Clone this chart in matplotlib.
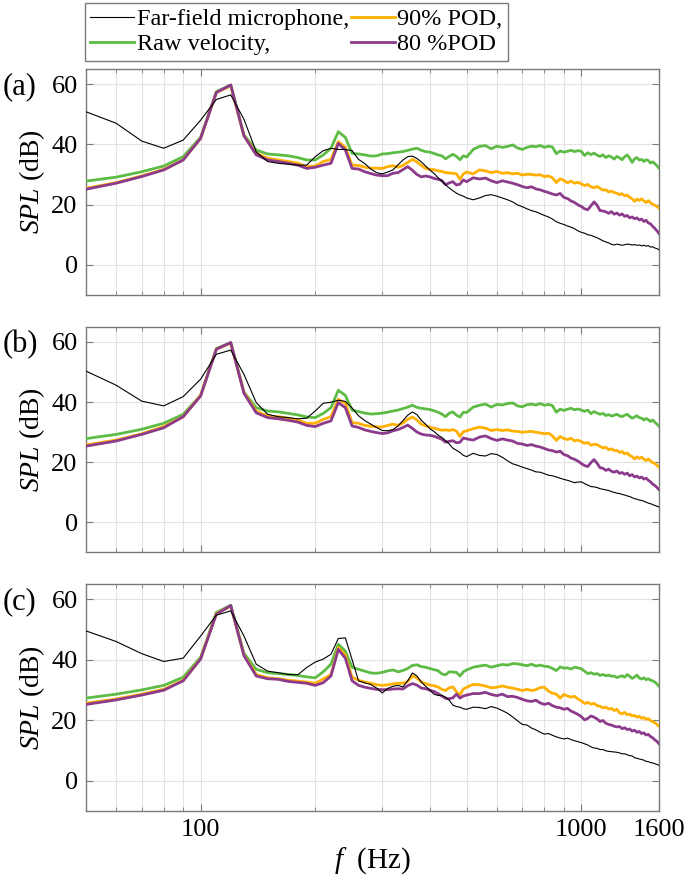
import numpy as np
import matplotlib
matplotlib.use("Agg")
import matplotlib.pyplot as plt
from matplotlib.ticker import FixedLocator, NullFormatter, FixedFormatter

plt.rcParams['font.family'] = ['Liberation Serif', 'DejaVu Serif']
plt.rcParams['mathtext.fontset'] = 'custom'
plt.rcParams['mathtext.rm'] = 'Liberation Serif'
plt.rcParams['mathtext.it'] = 'Liberation Serif:italic'

# frequency grid (Hz): 10 Hz steps to 500 Hz, 20 Hz steps above
freq = np.concatenate([np.arange(50, 510, 10), np.arange(520, 1620, 20)])

series_names = ["Far-field microphone,", "Raw velocity,", "90% POD,", "80 %POD"]
panel_labels = ["(a)", "(b)", "(c)"]

# ---------------- panel (a) ----------------
far_a = [50.8, 47.0, 41.1, 38.7, 41.4, 48.0, 54.9, 56.4, 48.3, 37.5, 34.3, 33.7, 33.4, 33.1, 33.1, 35.9, 37.9, 38.7, 38.3, 38.3, 37.9,
         35.0, 33.6, 31.8, 30.6, 30.2, 30.8, 31.5, 33.2, 34.8, 35.9, 36.1, 35.3, 34.2, 32.8, 31.5, 30.4, 29.0, 27.8, 26.6, 25.5, 24.6, 23.8, 23.2, 22.8, 22.2,
         21.6, 22.2, 23.0, 23.3, 22.8, 22.2, 21.6, 20.9, 19.9, 19.3, 18.6, 18.0, 17.6, 17.0, 16.4, 15.9, 15.2, 14.3, 13.8, 13.4,
         12.9, 12.5, 12.0, 11.3, 10.8, 10.5, 10.0, 9.8, 9.4, 9.0, 8.5, 8.0, 7.6, 7.3, 6.8, 6.6, 6.9, 6.7, 6.5, 6.7,
         6.9, 6.8, 6.6, 6.7, 6.5, 6.6, 6.3, 6.5, 6.2, 6.4, 5.9, 6.0, 5.6, 5.4, 5.0]
raw_a = [27.8, 29.1, 30.9, 32.8, 35.9, 42.3, 57.5, 59.7, 43.1, 38.1, 36.8, 36.5, 36.2, 35.6, 34.8, 34.8, 36.5, 38.7, 44.2, 42.3, 37.0,
         36.8, 36.5, 36.1, 36.2, 36.8, 36.9, 37.2, 37.4, 37.6, 38.0, 38.4, 38.7, 38.0, 37.6, 37.4, 37.0, 36.5, 36.2, 35.2, 36.0, 36.7, 36.0, 34.9, 36.2, 35.8,
         38.3, 39.3, 39.6, 38.5, 39.4, 39.0, 39.3, 39.8, 38.8, 38.3, 39.0, 39.4, 39.2, 39.6, 39.0, 39.4, 39.1, 36.9, 37.8, 37.4,
         37.7, 38.0, 37.6, 37.9, 37.7, 36.3, 37.2, 36.6, 37.1, 36.4, 36.0, 36.5, 35.6, 36.2, 35.8, 35.1, 36.0, 35.5, 34.9, 35.9,
         36.5, 35.4, 34.0, 35.2, 35.6, 34.8, 35.0, 34.3, 34.9, 34.6, 33.8, 34.2, 33.6, 32.9, 32.1]
pod90_a = [25.4, 27.3, 29.5, 31.7, 34.8, 42.0, 57.2, 59.4, 42.8, 37.0, 35.4, 34.8, 34.3, 33.7, 32.6, 32.8, 34.3, 35.0, 40.9, 39.0, 33.1,
           33.0, 32.4, 32.1, 32.1, 32.0, 32.6, 32.9, 32.4, 33.0, 34.0, 35.0, 34.2, 33.0, 32.0, 31.7, 31.6, 31.2, 31.0, 30.6, 30.5, 30.4, 30.2, 28.4, 30.2, 30.8,
           30.2, 31.5, 31.2, 30.6, 31.0, 30.4, 30.6, 30.2, 30.4, 29.8, 30.1, 30.0, 29.8, 29.9, 29.3, 29.5, 28.9, 27.3, 28.6, 28.0,
           27.2, 27.8, 27.1, 27.4, 26.9, 26.3, 26.7, 25.9, 25.6, 26.0, 25.4, 24.8, 24.9, 24.2, 24.5, 24.0, 23.8, 23.3, 23.6, 22.9,
           23.2, 22.4, 21.9, 21.1, 21.8, 21.4, 21.9, 21.2, 20.7, 21.3, 20.6, 20.1, 19.8, 19.4, 18.8]
pod80_a = [25.1, 27.1, 29.3, 31.5, 34.8, 42.0, 57.2, 59.7, 42.8, 36.5, 34.8, 34.3, 33.7, 33.1, 32.0, 32.4, 33.1, 33.7, 40.3, 38.1, 32.0,
           31.8, 30.9, 30.3, 29.8, 29.6, 29.6, 30.4, 30.6, 31.6, 32.6, 31.4, 30.0, 29.2, 29.5, 29.2, 28.7, 28.4, 28.0, 26.6, 27.2, 27.6, 26.5, 26.8, 28.2, 27.6,
           28.9, 28.5, 28.8, 27.9, 27.3, 27.9, 27.5, 27.1, 26.6, 26.0, 25.6, 25.9, 25.2, 24.9, 24.4, 24.0, 23.5, 23.2, 23.7, 22.4,
           22.0, 21.2, 20.7, 19.9, 19.4, 18.6, 18.3, 19.6, 20.9, 19.8, 18.0, 17.9, 17.6, 17.1, 17.7, 16.8, 17.2, 16.5, 16.9, 16.1,
           16.4, 15.6, 15.9, 15.3, 15.6, 14.9, 15.2, 14.4, 14.8, 13.9, 13.6, 12.8, 12.1, 11.3, 10.4]

# ---------------- panel (b) ----------------
far_b = [50.3, 45.6, 40.3, 38.7, 41.8, 47.6, 55.9, 57.3, 49.2, 39.8, 35.9, 35.1, 34.8, 34.4, 34.6, 37.0, 39.6, 39.9, 40.6, 40.2, 38.0,
         35.4, 33.8, 32.6, 31.5, 30.5, 30.4, 30.8, 32.0, 33.8, 35.6, 36.7, 35.8, 33.9, 32.6, 31.1, 30.2, 29.0, 28.2, 27.1, 26.0, 24.6, 23.9, 23.2, 22.2, 21.8,
         22.9, 22.2, 22.0, 22.8, 22.5, 21.6, 20.4, 19.4, 18.9, 18.3, 17.8, 17.3, 16.7, 16.6, 16.1, 15.6, 15.4, 15.0, 14.6, 14.2,
         13.9, 13.5, 13.1, 13.3, 13.4, 12.8, 12.3, 11.8, 11.7, 11.5, 11.1, 10.9, 10.7, 10.5, 10.1, 9.9, 9.6, 9.5, 9.2, 9.0,
         8.7, 8.5, 8.1, 7.8, 7.6, 7.3, 7.2, 6.9, 6.6, 6.3, 6.1, 5.8, 5.5, 5.3, 5.0]
raw_b = [27.8, 29.2, 30.9, 32.9, 35.9, 42.2, 57.8, 59.8, 43.3, 38.1, 37.0, 36.7, 36.2, 35.7, 35.0, 34.8, 36.2, 38.1, 43.9, 42.2, 37.3,
         36.8, 36.3, 36.0, 36.1, 36.3, 36.6, 37.0, 37.3, 37.8, 38.3, 38.9, 38.2, 37.9, 37.7, 37.5, 37.1, 36.6, 36.0, 35.1, 36.3, 36.7, 35.6, 35.0, 36.6, 36.5,
         38.3, 38.9, 39.3, 38.3, 39.2, 39.0, 39.5, 39.7, 38.7, 38.4, 39.1, 39.3, 39.0, 39.5, 38.9, 39.2, 38.8, 36.6, 37.6, 37.2,
         37.6, 37.9, 37.4, 37.7, 37.3, 36.9, 37.3, 36.1, 36.8, 36.3, 35.9, 36.2, 35.5, 35.8, 35.3, 35.6, 35.9, 35.4, 35.1, 35.6,
         35.9, 35.2, 34.6, 35.0, 35.4, 34.8, 34.6, 34.0, 34.5, 34.1, 33.5, 34.0, 33.3, 32.6, 31.9]
pod90_b = [25.7, 27.3, 29.4, 31.8, 35.1, 42.2, 57.6, 59.6, 43.1, 37.0, 35.3, 35.1, 34.6, 34.0, 32.9, 32.9, 34.2, 35.1, 40.9, 39.6, 33.1,
           32.9, 32.2, 31.9, 31.7, 31.7, 32.2, 32.6, 32.2, 33.0, 34.2, 35.0, 34.0, 32.6, 32.1, 31.6, 31.3, 30.9, 30.6, 30.7, 30.5, 30.8, 30.3, 28.5, 30.1, 30.4,
           31.1, 31.6, 31.3, 30.5, 30.8, 30.5, 30.7, 30.3, 30.2, 29.9, 30.1, 30.2, 29.9, 29.7, 29.4, 29.6, 28.7, 27.2, 28.5, 27.8,
           27.5, 27.9, 27.0, 27.3, 26.8, 26.2, 26.5, 25.6, 25.9, 25.8, 25.2, 24.7, 24.9, 24.1, 24.4, 23.8, 23.9, 23.2, 23.5, 22.7,
           23.0, 22.2, 21.8, 21.0, 21.7, 21.2, 21.6, 20.9, 20.5, 21.0, 20.3, 19.8, 19.5, 18.9, 18.3]
pod80_b = [25.3, 27.0, 29.2, 31.4, 35.1, 42.0, 57.6, 59.8, 42.9, 36.4, 34.8, 34.4, 33.9, 33.3, 32.2, 31.8, 32.9, 33.7, 39.8, 38.1, 32.0,
           31.5, 30.7, 30.2, 29.8, 29.5, 29.7, 30.4, 30.8, 31.5, 32.3, 31.2, 30.0, 29.3, 29.0, 28.9, 28.6, 28.1, 27.6, 26.6, 26.9, 27.1, 26.4, 26.6, 28.0, 27.7,
           27.3, 28.3, 28.7, 27.8, 27.2, 27.7, 27.3, 27.0, 26.2, 26.0, 25.5, 25.8, 25.3, 25.0, 24.5, 24.0, 23.8, 23.3, 23.6, 22.5,
           22.1, 21.3, 20.9, 20.3, 19.5, 18.8, 18.5, 19.8, 20.8, 19.6, 18.1, 17.9, 17.2, 17.6, 16.9, 16.6, 17.0, 16.2, 16.5, 15.9,
           16.3, 15.4, 15.8, 15.0, 15.3, 14.7, 15.0, 14.3, 14.6, 13.9, 13.4, 12.6, 12.2, 11.5, 10.8]

# ---------------- panel (c) ----------------
far_c = [49.5, 46.0, 42.0, 39.4, 40.5, 47.8, 54.7, 56.1, 47.8, 38.5, 36.2, 35.7, 35.1, 35.0, 37.4, 39.2, 40.2, 41.8, 47.0, 47.2, 40.0,
         33.0, 32.3, 31.8, 30.6, 29.0, 30.5, 31.2, 31.5, 31.0, 33.0, 35.6, 34.6, 32.6, 31.2, 30.0, 28.6, 28.2, 28.2, 27.6, 26.6, 25.0, 24.5, 24.3, 23.8, 23.6,
         24.3, 24.2, 23.8, 24.5, 24.0, 23.2, 22.3, 21.1, 19.8, 18.6, 18.4, 17.4, 16.8, 16.0, 15.4, 15.6, 15.0, 14.5, 14.1, 13.8,
         14.1, 13.6, 13.2, 12.9, 12.6, 12.2, 11.8, 11.2, 10.8, 10.7, 10.3, 10.3, 9.9, 9.7, 9.6, 9.5, 9.4, 9.2, 8.9, 8.9,
         8.6, 8.3, 8.2, 7.6, 7.4, 7.2, 7.0, 6.8, 6.4, 6.3, 6.0, 5.9, 5.6, 5.4, 5.1]
raw_c = [27.3, 28.6, 30.0, 31.5, 34.2, 40.8, 55.6, 58.0, 42.1, 36.8, 35.7, 35.4, 35.1, 34.8, 34.3, 34.0, 36.0, 38.5, 45.1, 42.8, 37.5,
         36.8, 36.2, 35.6, 35.5, 35.8, 36.3, 36.6, 36.0, 36.4, 37.1, 38.1, 38.3, 37.7, 37.5, 37.1, 36.7, 36.4, 35.3, 35.0, 36.0, 35.9, 35.8, 34.6, 36.0, 36.6,
         37.5, 37.9, 38.2, 37.5, 38.0, 38.4, 38.2, 38.7, 38.6, 38.3, 38.0, 38.5, 37.9, 38.2, 37.8, 37.7, 37.1, 36.4, 37.6, 37.2,
         37.3, 36.9, 37.5, 37.3, 37.0, 36.2, 35.4, 35.7, 35.2, 35.4, 34.8, 35.1, 34.7, 34.9, 34.5, 34.6, 34.1, 34.4, 34.7, 34.2,
         35.1, 34.5, 33.8, 34.3, 34.9, 33.9, 33.6, 34.0, 33.4, 33.7, 33.2, 33.0, 32.6, 32.0, 31.2]
pod90_c = [25.6, 27.0, 28.6, 30.2, 33.2, 40.3, 55.2, 57.7, 41.5, 35.1, 34.0, 33.7, 33.2, 32.9, 32.6, 32.2, 33.6, 35.1, 44.0, 41.5, 34.2,
           33.2, 32.6, 32.2, 31.7, 31.5, 31.7, 32.0, 32.2, 32.2, 32.8, 34.6, 34.0, 32.6, 32.1, 31.6, 31.4, 31.0, 30.2, 29.8, 30.7, 31.0, 29.4, 28.4, 30.3, 30.9,
           31.8, 31.7, 31.3, 30.7, 30.9, 31.3, 30.9, 30.6, 30.2, 29.8, 30.2, 29.8, 30.1, 30.8, 30.9, 29.6, 28.9, 28.6, 27.3, 28.5,
           28.0, 27.6, 27.9, 27.0, 26.4, 25.5, 25.9, 25.3, 25.6, 24.8, 24.6, 24.1, 24.3, 23.7, 23.9, 23.2, 23.6, 22.4, 22.1, 22.6,
           21.8, 22.0, 21.4, 21.6, 21.0, 21.3, 20.6, 20.9, 20.3, 20.5, 19.9, 19.5, 19.2, 18.6, 18.0]
pod80_c = [25.2, 26.7, 28.3, 29.9, 33.0, 40.2, 55.0, 57.9, 41.3, 34.6, 33.7, 33.5, 32.8, 32.5, 32.2, 31.5, 32.4, 34.6, 43.4, 40.5, 33.0,
           31.5, 30.9, 30.5, 30.2, 30.1, 30.1, 30.3, 30.4, 30.3, 31.4, 32.1, 31.6, 30.6, 30.4, 29.9, 29.5, 28.8, 28.0, 27.2, 27.1, 27.4, 28.6, 27.3, 28.0, 28.3,
           28.8, 28.8, 29.2, 28.5, 28.1, 28.6, 27.8, 27.9, 27.5, 26.9, 26.4, 26.2, 26.6, 25.7, 25.2, 25.6, 24.8, 24.3, 24.1, 23.6,
           23.9, 23.0, 22.5, 21.9, 21.2, 20.1, 20.6, 21.4, 21.0, 20.4, 19.6, 19.9, 19.0, 18.6, 18.4, 18.0, 17.8, 17.9, 17.2, 17.5,
           16.9, 17.1, 16.4, 16.7, 16.0, 16.3, 15.6, 15.8, 15.1, 15.3, 14.6, 14.2, 13.5, 13.0, 12.2]

panels = [(far_a, raw_a, pod90_a, pod80_a),
          (far_b, raw_b, pod90_b, pod80_b),
          (far_c, raw_c, pod90_c, pod80_c)]

x_ticks = [100, 1000, 1600]
x_ticklabels = ["100", "1000", "1600"]
x_minor = [60, 70, 80, 90, 200, 300, 400, 500, 600, 700, 800, 900]
y_ticks = [0, 20, 40, 60]

c_far = "black"
c_raw = "#5dbb46"
c_90 = "#ffb000"
c_80 = "#8c3b8c"

fig = plt.figure(figsize=(6.85, 8.8), dpi=100)
boxes = [(86, 69, 659, 295), (86, 327, 659, 552), (86, 584, 659, 811)]
W, H = 685.0, 880.0
frame_col = "#7a7a7a"
handles = None
for i, (box, data) in enumerate(zip(boxes, panels)):
    l, t, r, b = box
    ax = fig.add_axes([l / W, 1 - b / H, (r - l) / W, (b - t) / H])
    far, raw, p90, p80 = [np.asarray(d) for d in data]
    h_raw, = ax.plot(freq, raw, color=c_raw, lw=2.0, zorder=3)
    h_90, = ax.plot(freq, p90, color=c_90, lw=2.0, zorder=4)
    h_80, = ax.plot(freq, p80, color=c_80, lw=2.0, zorder=5)
    h_far, = ax.plot(freq, far, color=c_far, lw=0.8, zorder=6)
    if handles is None:
        handles = [h_far, h_raw, h_90, h_80]
    ax.set_xscale('log')
    ax.set_xlim(50, 1600)
    ax.set_ylim(-10, 65)
    ax.xaxis.set_major_locator(FixedLocator(x_ticks))
    ax.xaxis.set_minor_locator(FixedLocator(x_minor))
    ax.xaxis.set_minor_formatter(NullFormatter())
    if i == 2:
        ax.xaxis.set_major_formatter(FixedFormatter(x_ticklabels))
        ax.set_xlabel(r"$\mathit{f}$  (Hz)", fontsize=21, labelpad=3)
    else:
        ax.xaxis.set_major_formatter(NullFormatter())
    ax.set_yticks(y_ticks)
    ax.grid(True, which='major', color='#e3e3e3', lw=0.8, zorder=0)
    ax.grid(True, which='minor', axis='x', color='#e3e3e3', lw=0.8, zorder=0)
    ax.set_axisbelow(True)
    ax.tick_params(which='both', direction='in', top=True, right=True,
                   color=frame_col, labelsize=19, labelcolor='black')
    ax.tick_params(which='major', length=5, width=0.8, pad=6)
    ax.tick_params(which='minor', length=3, width=0.6)
    for s in ax.spines.values():
        s.set_color(frame_col)
        s.set_linewidth(1.0)
    ax.set_ylabel(r"$\mathit{SPL}$ (dB)", fontsize=20)
    ax.yaxis.set_label_coords(-0.068, 0.5)
    fig.text(3 / W, 1 - (t + 18) / H, panel_labels[i], fontsize=22,
             ha='left', va='center')

leg = fig.legend(handles, series_names, loc='upper left',
                 bbox_to_anchor=(85 / W, 1 - 3 / H), ncol=2, fontsize=17.5,
                 handlelength=1.8, handletextpad=0.1, columnspacing=0.1,
                 borderpad=0.22, labelspacing=0.12, borderaxespad=0,
                 fancybox=False, edgecolor='#7a7a7a', framealpha=1)
leg.get_frame().set_linewidth(1.0)

fig.savefig("out.png", dpi=100)
